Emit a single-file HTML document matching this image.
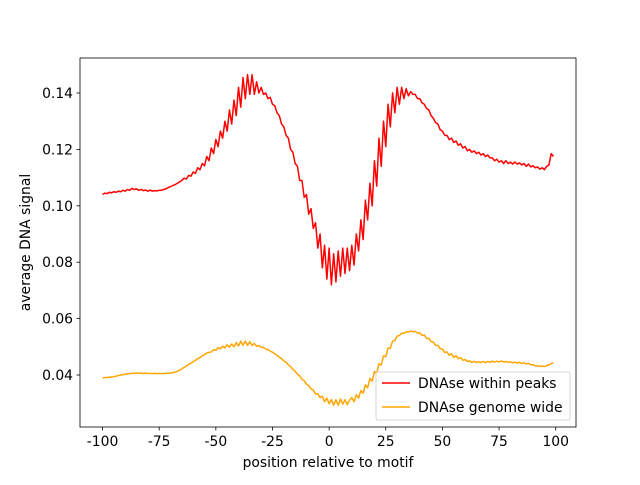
<!DOCTYPE html>
<html><head><meta charset="utf-8">
<style>
body{margin:0;background:#fff;}
svg text{font-family:"DejaVu Sans","Liberation Sans",sans-serif;font-size:13.9px;fill:#000;}
</style></head>
<body>
<svg id="chart" width="640" height="480" xmlns="http://www.w3.org/2000/svg">
<rect x="0" y="0" width="640" height="480" fill="#fff"/>
<g id="plot"></g>
<rect x="80" y="58" width="496" height="369" fill="none" stroke="#000" stroke-width="0.8"/>
<g id="xt"></g><g id="yt"></g>
<text x="328" y="467" text-anchor="middle">position relative to motif</text>
<text transform="translate(30,242.5) rotate(-90)" text-anchor="middle">average DNA signal</text>
<g>
<rect x="376" y="372" width="194" height="48" rx="2" fill="#fff" fill-opacity="0.8" stroke="#ccc" stroke-width="0.8"/>
<line x1="382" y1="383" x2="410" y2="383" stroke="#ff0000" stroke-width="1.5"/>
<text x="418" y="388">DNAse within peaks</text>
<line x1="382" y1="407" x2="410" y2="407" stroke="#ffa500" stroke-width="1.5"/>
<text x="418" y="412">DNAse genome wide</text>
</g>
</svg>
<script>
const positionStart = -100;
const withinPeaks = [
.1040,.1045,.1043,.1048,.1046,.1050,.1048,.1052,.1050,.1055,
.1052,.1058,.1055,.1062,.1058,.1060,.1055,.1058,.1054,.1056,
.1052,.1056,.1052,.1054,.1053,.1055,
.1055,.1058,.1060,.1065,.1068,.1072,.1075,.1080,.1085,.1090,
.1098,.1095,.1108,.1105,.1120,.1115,.1135,.1128,.1150,.1142,
.1175,.1160,.1205,.1185,.1235,.1210,.1265,.1240,.1300,.1265,
.1340,.1290,.1375,.1320,.1420,.1350,.1455,.1380,.1465,.1395,
.1465,.1395,.1440,.1400,.1420,.1395,.1400,.1380,.1385,.1360,
.1355,.1330,.1320,.1290,.1280,.1250,.1240,.1200,.1190,.1150,
.1140,.1090,.1090,.1030,.1040,.0970,.0990,.0920,.0940,.0850,
.0900,.0780,.0860,.0740,.0850,.0720,.0830,.0730,.0840,.0750,.0850,.0760,.0850,.0770,
.0860,.0790,.0900,.0840,.0950,.0880,.1020,.0950,.1080,.1000,
.1160,.1070,.1240,.1140,.1300,.1210,.1360,.1280,.1400,.1330,
.1420,.1360,.1420,.1380,.1415,.1390,.1405,.1395,.1395,.1380,
.1380,.1365,.1360,.1345,.1340,.1320,.1310,.1295,.1290,.1270,
.1265,.1250,.1250,.1235,.1240,.1225,.1230,.1215,.1220,.1205,
.1210,.1195,.1200,.1190,.1195,.1185,.1190,.1180,.1185,.1175,
.1180,.1170,.1170,.1160,.1165,.1155,.1160,.1150,.1160,.1150,
.1155,.1148,.1155,.1148,.1152,.1145,.1150,.1140,.1148,.1138,
.1142,.1135,.1138,.1130,.1135,.1128,.1140,.1145,.1185,.1175];
const genomeWide = [
.0390,.0391,.0391,.0392,.0393,.0394,.0396,.0398,.0400,.0401,
.0403,.0404,.0405,.0406,.0406,.0407,.0406,.0407,.0405,.0407,
.0405,.0406,.0405,.0406,.0405,.0406,.0405,
.0405,.0406,.0406,.0407,.0408,.0410,.0413,.0417,.0422,.0427,
.0432,.0437,.0442,.0447,.0452,.0458,.0462,.0468,.0472,.0478,
.0480,.0482,.0490,.0488,.0497,.0493,.0502,.0496,.0507,.0499,
.0510,.0500,.0515,.0503,.0520,.0505,.0520,.0505,.0518,.0505,
.0512,.0502,.0505,.0498,.0498,.0492,.0490,.0485,.0481,.0475,
.0470,.0463,.0458,.0450,.0445,.0436,.0430,.0420,.0413,.0403,
.0397,.0385,.0380,.0368,.0362,.0350,.0347,.0333,.0334,.0320,
.0325,.0305,.0318,.0298,.0313,.0293,.0312,.0293,.0315,.0297,.0312,.0295,.0310,
.0320,.0305,.0330,.0318,.0345,.0335,.0365,.0355,.0388,.0378,
.0412,.0405,.0440,.0435,.0468,.0465,.0495,.0495,.0520,.0522,
.0538,.0540,.0548,.0548,.0553,.0552,.0556,.0553,.0555,.0548,
.0550,.0540,.0542,.0530,.0530,.0518,.0517,.0505,.0505,.0493,
.0492,.0480,.0482,.0470,.0475,.0462,.0468,.0458,.0462,.0452,
.0455,.0448,.0450,.0445,.0448,.0444,.0447,.0444,.0448,.0444,
.0448,.0445,.0449,.0446,.0449,.0446,.0450,.0446,.0448,.0445,
.0447,.0443,.0446,.0442,.0445,.0441,.0443,.0439,.0441,.0436,
.0436,.0433,.0433,.0430,.0432,.0430,.0433,.0436,.0440,.0443];
const xTicks = [-100,-75,-50,-25,0,25,50,75,100];
const yTicks = [0.04,0.06,0.08,0.10,0.12,0.14];
const yTickLabels = ["0.04","0.06","0.08","0.10","0.12","0.14"];

const NS="http://www.w3.org/2000/svg";
const X0=80,X1=576,Y0=427,Y1=58;
const xMin=-109.95,xMax=108.95,yMin=0.02156,yMax=0.15242;
const sx=v=>X0+(v-xMin)/(xMax-xMin)*(X1-X0);
const sy=v=>Y0-(v-yMin)/(yMax-yMin)*(Y0-Y1);
function mk(t,a){const e=document.createElementNS(NS,t);for(const k in a)e.setAttribute(k,a[k]);return e;}
const plot=document.getElementById('plot');
function series(arr,color,name){
  const d=arr.map((v,i)=>(i?'L':'M')+sx(positionStart+i).toFixed(2)+','+sy(v).toFixed(2)).join('');
  const p=mk('path',{d:d,fill:'none',stroke:color,'stroke-width':1.5,'stroke-linejoin':'round'});
  
  
  plot.appendChild(p);
}
series(withinPeaks,'#ff0000','series-within-peaks');
series(genomeWide,'#ffa500','series-genome-wide');
const xt=document.getElementById('xt');
xTicks.forEach(t=>{
  const x=sx(t);
  const l=mk('line',{x1:x,y1:427,x2:x,y2:430.5,stroke:'#000','stroke-width':0.8});
  
  
  xt.appendChild(l);
  const tx=mk('text',{x:x,y:446,'text-anchor':'middle'});
  tx.textContent=t;
  
  
  xt.appendChild(tx);
});
const yt=document.getElementById('yt');
yTicks.forEach((t,i)=>{
  const y=sy(t);
  const l=mk('line',{x1:76.5,y1:y,x2:80,y2:y,stroke:'#000','stroke-width':0.8});
  
  
  yt.appendChild(l);
  const tx=mk('text',{x:73,y:y+5,'text-anchor':'end'});
  tx.textContent=yTickLabels[i];
  
  
  yt.appendChild(tx);
});
</script>
</body></html>
